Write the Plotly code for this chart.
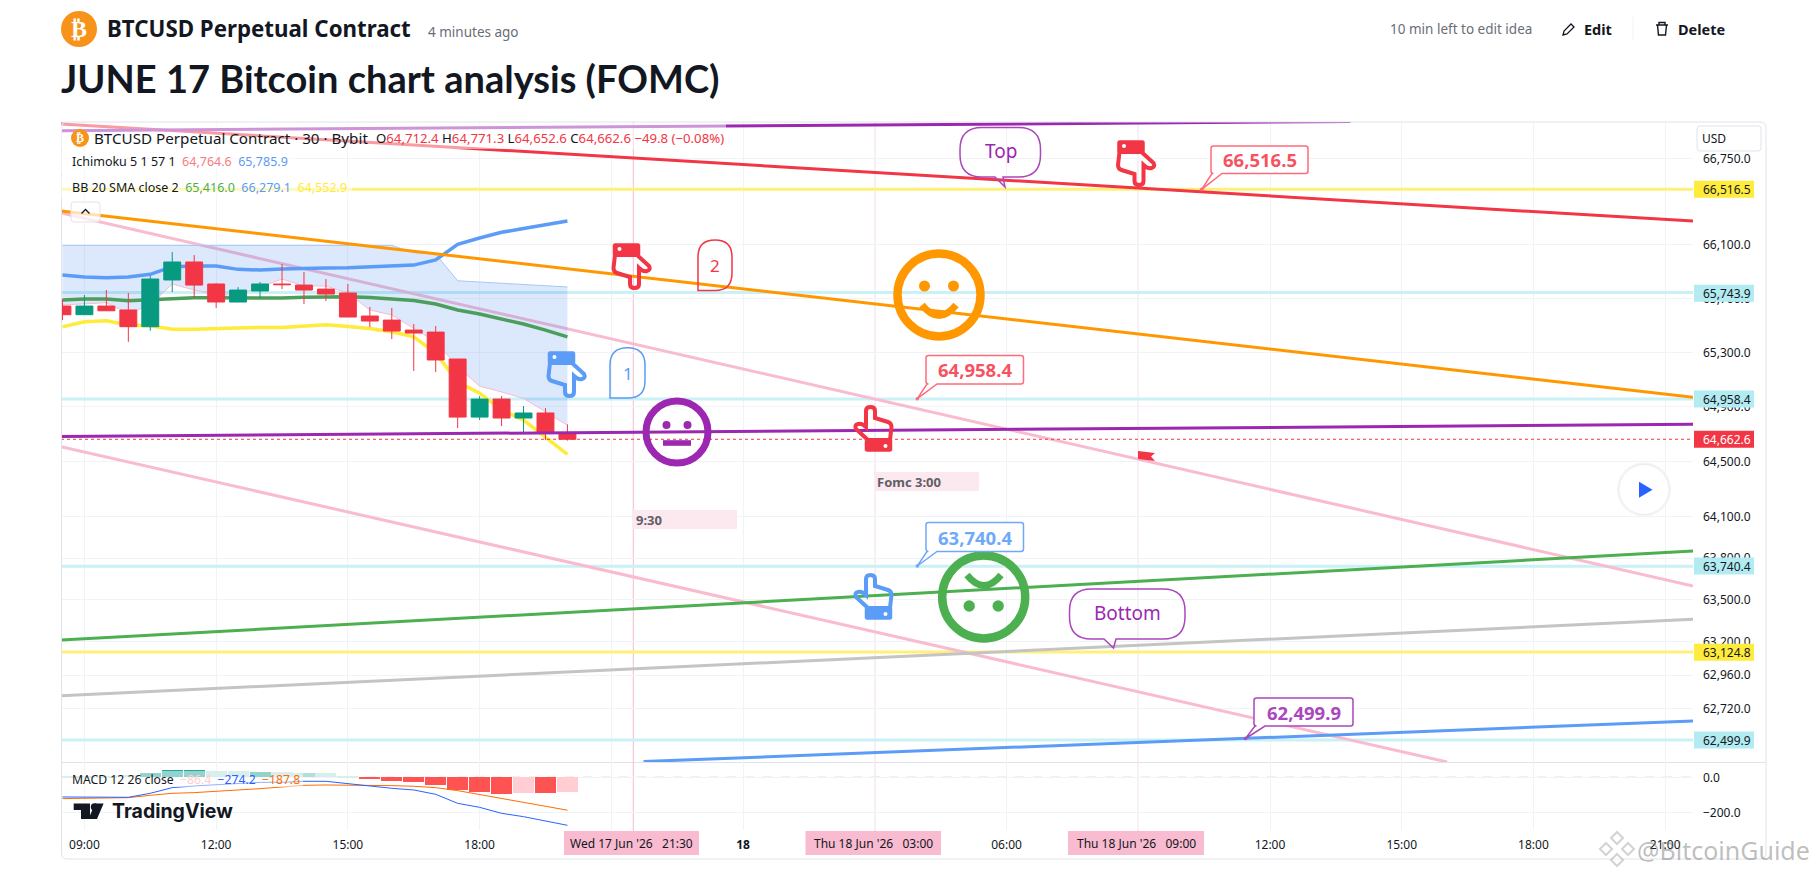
import plotly.graph_objects as go

W, H = 1815, 874

# --- data ---
candle_time = ["2026-06-17 08:30", "2026-06-17 09:00", "2026-06-17 09:30", "2026-06-17 10:00",
               "2026-06-17 10:30", "2026-06-17 11:00", "2026-06-17 11:30", "2026-06-17 12:00",
               "2026-06-17 12:30", "2026-06-17 13:00", "2026-06-17 13:30", "2026-06-17 14:00",
               "2026-06-17 14:30", "2026-06-17 15:00", "2026-06-17 15:30", "2026-06-17 16:00",
               "2026-06-17 16:30", "2026-06-17 17:00", "2026-06-17 17:30", "2026-06-17 18:00",
               "2026-06-17 18:30", "2026-06-17 19:00", "2026-06-17 19:30", "2026-06-17 20:00"]
o = [65644, 65580, 65644, 65615, 65491, 65838, 65972, 65808, 65674, 65756, 65808, 65800,
     65770, 65741, 65570, 65540, 65466, 65451, 65252, 64825, 64957, 64818, 64855, 64712.4]
h = [65694, 65726, 65763, 65741, 65867, 66046, 66024, 65815, 65785, 65823, 65957, 65897,
     65845, 65808, 65637, 65630, 65511, 65496, 65252, 64979, 64979, 64906, 64891, 64771.3]
l = [65540, 65580, 65609, 65379, 65461, 65748, 65704, 65630, 65674, 65704, 65770, 65659,
     65681, 65563, 65488, 65399, 65164, 65156, 64745, 64803, 64759, 64708, 64657, 64652.6]
c = [65580, 65644, 65609, 65491, 65845, 65972, 65800, 65674, 65763, 65808, 65803, 65763,
     65733, 65563, 65533, 65459, 65444, 65245, 64825, 64957, 64818, 64855, 64708, 64662.6]

bb_upper = [65875, 65860, 65855, 65860, 65880, 65937, 65942, 65942, 65917, 65912, 65919, 65925,
            65927, 65929, 65935, 65942, 65949, 65987, 66104, 66151, 66194, 66222, 66252, 66279.1]
bb_basis = [65689, 65696, 65696, 65684, 65691, 65701, 65706, 65706, 65704, 65704, 65704, 65709,
            65713, 65713, 65707, 65696, 65685, 65659, 65615, 65585, 65548, 65511, 65466, 65416.0]
bb_lower = [65490, 65528, 65535, 65503, 65498, 65473, 65473, 65478, 65486, 65486, 65486, 65496,
            65505, 65493, 65478, 65453, 65416, 65296, 65084, 65001, 64877, 64803, 64681, 64552.9]
cloud_top = [66096, 66096, 66096, 66096, 66096, 66096, 66096, 66096, 66096, 66096, 66096, 66096,
             66096, 66096, 66096, 66096, 66041, 66031, 65832, 65823, 65815, 65808, 65798, 65785.9]
cloud_low = [65652, 65659, 65669, 65590, 65652, 65808, 65763, 65726, 65726, 65785, 65845, 65793,
             65793, 65741, 65615, 65578, 65481, 65380, 65195, 65052, 65010, 64962, 64864, 64764.6]

macd_hist = [10, 10, 10, 12, 23, 42, 42, 34, 34, 30.5, 30.5, 26.7, 23, 8, -9.5, -21, -26.7, -44,
             -72, -84, -95, -89.5, -89.5, -86.4]
macd_col = ["#B2DFDB", "#B2DFDB", "#B2DFDB", "#B2DFDB", "#26A69A", "#26A69A", "#26A69A", "#B2DFDB",
            "#B2DFDB", "#26A69A", "#B2DFDB", "#B2DFDB", "#D5EFEB", "#D5EFEB", "#FF5252", "#FF5252",
            "#FF5252", "#FF5252", "#FF5252", "#FF5252", "#FF5252", "#FFCDD2", "#FF5252", "#FFCDD2"]
macd_line = [-112.4, -112.4, -114.3, -114.3, -91.4, -59, -49.5, -43.8, -34.3, -28.6, -28.6, -22.9,
             -22.9, -34.3, -49.5, -62.9, -72.4, -97.2, -148.6, -171.5, -205.7, -224.8, -247.7, -274.2]
macd_signal = [-121.9, -120, -118, -116.2, -102.9, -91.4, -87.6, -81.9, -72.4, -64.8, -53.3, -45.7,
               -43.8, -43.8, -45.7, -47.6, -51.4, -59, -76.2, -99, -121.9, -142.9, -163.8, -187.8]

# drawn trend lines, prices at the pane edges
edges = ["2026-06-17 08:28", "2026-06-18 21:38"]
red_tl = [67009.6, 66278]
orange_tl = [66353.5, 64970]
pink_tl_a = [66338, 63598]
purple_tl = [64683, 64772]
green_tl = [63211, 63850]
gray_tl = [62814, 63359]
pink_tl_b_x = ["2026-06-17 08:28", "2026-06-18 16:02"]
pink_tl_b = [64608, 62345]
blue_tl_x = ["2026-06-17 21:44", "2026-06-18 21:38"]
blue_tl = [62348, 62634]
purple_top_x = ["2026-06-17 08:28", "2026-06-18 13:50"]
purple_top = [66958.8, 67028.5]
yellow_levels = [66516.5, 63124.8]
cyan_levels = [65743.9, 64958.4, 63740.4, 62499.9]
last_price = 64662.6

price_ticks = [66750, 66100, 65700, 65300, 64900, 64500, 64100, 63800, 63500, 63200, 62960, 62720]
price_labels = ["66,750.0", "66,100.0", "65,700.0", "65,300.0", "64,900.0", "64,500.0",
                "64,100.0", "63,800.0", "63,500.0", "63,200.0", "62,960.0", "62,720.0"]
time_ticks = ["2026-06-17 09:00", "2026-06-17 12:00", "2026-06-17 15:00", "2026-06-17 18:00",
              "2026-06-17 21:00", "2026-06-18 00:00", "2026-06-18 03:00", "2026-06-18 06:00",
              "2026-06-18 09:00", "2026-06-18 12:00", "2026-06-18 15:00", "2026-06-18 18:00",
              "2026-06-18 21:00"]
time_labels = ["09:00", "12:00", "15:00", "18:00", "", "<b>18</b>", "", "06:00", "", "12:00",
               "15:00", "18:00", "21:00"]
cross_times = ["2026-06-17 21:30", "2026-06-18 03:00", "2026-06-18 09:00"]

FONT = "Noto Sans"
RED, BLUE, PURPLE = "#F23645", "#5B9CF6", "#AB47BC"
GRID = "#F2F3F6"

fig = go.Figure()


def line(x, y, color, width=3, axes=("x", "y"), dash=None):
    fig.add_trace(go.Scatter(x=x, y=y, mode="lines", xaxis=axes[0], yaxis=axes[1],
                             line=dict(color=color, width=width, dash=dash), hoverinfo="skip"))


# bottom of the stack: levels, pink lines, cloud, bands
for lvl in cyan_levels:
    line(edges, [lvl, lvl], "#C9F1F6")
for lvl in yellow_levels:
    line(edges, [lvl, lvl], "#FFF07A")
line(edges, pink_tl_a, "#F8BBD0")
line(pink_tl_b_x, pink_tl_b, "#F8BBD0")
line(edges, gray_tl, "#C4C4C4")
line(edges, green_tl, "#4CAF50")
line(blue_tl_x, blue_tl, BLUE)

fig.add_trace(go.Scatter(x=candle_time, y=cloud_top, mode="lines", hoverinfo="skip",
                         line=dict(color="#A6C8F5", width=1)))
fig.add_trace(go.Scatter(x=candle_time, y=cloud_low, mode="lines", hoverinfo="skip", fill="tonexty",
                         fillcolor="rgba(60,130,240,0.18)", line=dict(color="#F8BBD0", width=1)))
line(candle_time, bb_lower, "#FFEB3B", width=3.5)
line(candle_time, bb_basis, "#4C9F5A", width=3.5)
line(candle_time, bb_upper, BLUE, width=3.5)
line(edges, [last_price, last_price], RED, width=1, dash="dot")

# candles sit on an overlay pair of axes so that they cover the bands
fig.add_trace(go.Candlestick(x=candle_time, open=o, high=h, low=l, close=c, xaxis="x3", yaxis="y3",
                             whiskerwidth=0,
                             increasing=dict(fillcolor="#089981", line=dict(color="#089981", width=1)),
                             decreasing=dict(fillcolor=RED, line=dict(color=RED, width=1)),
                             hoverinfo="skip"))

# trend lines over the candles
top = ("x4", "y4")
line(edges, red_tl, RED, axes=top)
line(edges, orange_tl, "#FF9800", axes=top)
line(edges, purple_tl, "#9C27B0", axes=top)
line(purple_top_x, purple_top, "#9C27B0", axes=top)

# MACD pane
fig.add_trace(go.Bar(x=candle_time, y=macd_hist, marker=dict(color=macd_col, line_width=0),
                     width=1728000, xaxis="x2", yaxis="y2", hoverinfo="skip"))
line(candle_time, macd_signal, "#FF6D00", width=1, axes=("x2", "y2"))
line(candle_time, macd_line, "#2962FF", width=1, axes=("x2", "y2"))

# --- page furniture, positioned in page pixels ---
shapes, annos = [], []


def X(px):
    return px / W


def Y(py):
    return 1 - py / H


def path(cmds, color=None, fill="rgba(0,0,0,0)", width=1.5, layer="above"):
    # cmds is a list of (letter, x, y, ...) in page pixels
    s = ""
    for cmd in cmds:
        s += cmd[0]
        vals = cmd[1:]
        for i in range(0, len(vals), 2):
            s += f"{X(vals[i]):.5f},{Y(vals[i + 1]):.5f} "
    shapes.append(dict(type="path", path=s, xref="paper", yref="paper", fillcolor=fill, layer=layer,
                       line=dict(color=color or "rgba(0,0,0,0)", width=width if color else 0)))


def rect(x0, y0, x1, y1, fill, line_color=None, width=1, layer="above"):
    shapes.append(dict(type="rect", xref="paper", yref="paper", x0=X(x0), x1=X(x1), y0=Y(y0), y1=Y(y1),
                       fillcolor=fill, layer=layer,
                       line=dict(color=line_color or "rgba(0,0,0,0)", width=width if line_color else 0)))


def circle(cx, cy, r, fill="rgba(0,0,0,0)", line_color=None, width=1):
    shapes.append(dict(type="circle", xref="paper", yref="paper", x0=X(cx - r), x1=X(cx + r),
                       y0=Y(cy - r), y1=Y(cy + r), fillcolor=fill, layer="above",
                       line=dict(color=line_color or "rgba(0,0,0,0)", width=width if line_color else 0)))


def text(px, py, s, size=12, color="#131722", anchor="left", family=FONT):
    annos.append(dict(x=X(px), y=Y(py), xref="paper", yref="paper", text=s, showarrow=False,
                      xanchor=anchor, yanchor="middle", borderpad=0,
                      font=dict(size=size, color=color, family=family)))


def bubble(x0, y0, x1, y1, r, color, fill="rgba(0,0,0,0)", tail=None, width=1.5):
    cmds = [("M", x0 + r, y0), ("L", x1 - r, y0), ("Q", x1, y0, x1, y0 + r), ("L", x1, y1 - r),
            ("Q", x1, y1, x1 - r, y1)]
    if tail:
        cmds += [("L", tail[1], y1), ("L", tail[2], tail[3]), ("L", tail[0], y1)]
    cmds += [("L", x0 + r, y1), ("Q", x0, y1, x0, y1 - r), ("L", x0, y0 + r), ("Q", x0, y0, x0 + r, y0), ("Z",)]
    path(cmds, color, fill, width)


def hand(x0, y0, color, down=False):
    # 40 x 47 pointing hand, turned half round when it points down
    def p(u, v):
        return (x0 + 40 - u, y0 + 47 - v) if down else (x0 + u, y0 + v)

    path([("M", *p(15, 35)), ("L", *p(3, 24)), ("Q", *p(1, 20), *p(5, 19)), ("Q", *p(9, 18), *p(13, 22)),
          ("L", *p(13, 6)), ("Q", *p(13, 2), *p(17.5, 2)), ("Q", *p(22, 2), *p(22, 6)), ("L", *p(22, 13)),
          ("L", *p(35, 17)), ("Q", *p(38.5, 18), *p(38.5, 22)), ("L", *p(37, 35)), ("Z",)], color, width=4)
    a, b = p(12, 34), p(39, 46.5)
    bubble(min(a[0], b[0]), min(a[1], b[1]), max(a[0], b[0]), max(a[1], b[1]), 2, color, fill=color, width=0.5)
    d = p(32.5, 41)
    circle(d[0], d[1], 2, "#FFFFFF")


def face(cx, cy, r, sw, color, eye_dy, eye_dx, eye_r, mouth):
    circle(cx, cy, r, line_color=color, width=sw)
    circle(cx - eye_dx, cy + eye_dy, eye_r, color)
    circle(cx + eye_dx, cy + eye_dy, eye_r, color)
    path(mouth, color, width=sw * 0.8)


# panel frame and separators
bubble(61.5, 122, 1766, 859, 6, "#E0E3EB", width=1)
rect(61.5, 762, 1766, 763, "#E0E3EB", layer="below")

# crosshair verticals through both panes
for t in cross_times:
    shapes.append(dict(type="line", xref="x", yref="paper", x0=t, x1=t, y0=Y(831), y1=Y(122), layer="below",
                       line=dict(color="#F8BBD0", width=1)))
shapes.append(dict(type="line", xref="paper", yref="y2", x0=X(61), x1=X(1693), y0=0, y1=0, layer="below",
                   line=dict(color="#B2B5BE", width=1, dash="dash")))

# translucent backing of the legend rows
rect(61, 123, 726, 149, "rgba(255,255,255,0.5)")
rect(61, 151, 296, 174, "rgba(255,255,255,0.5)")
rect(61, 176, 352, 198, "rgba(255,255,255,0.5)")
rect(62, 771, 303, 787, "rgba(255,255,255,0.5)")

# icons
hand(853, 405, RED)
hand(853, 573, BLUE)
hand(612, 243, RED, down=True)
hand(1116.5, 140, RED, down=True)
hand(547, 351, BLUE, down=True)

face(939, 295, 41.5, 8.5, "#FF9800", -9, 14.5, 5.5,
     [("M", 922, 305), ("Q", 939, 326, 956, 305)])
face(983.7, 597, 41.5, 8.5, "#4CAF50", 9, 14.5, 5.7,
     [("M", 967, 575), ("Q", 984, 596, 1001, 575)])
face(677, 432, 31, 7, "#9C27B0", -7, 10.5, 4,
     [("M", 663, 443), ("L", 691, 443)])

# balloons
path([("M", 610, 398), ("L", 610, 365), ("Q", 610, 347.7, 627.5, 347.7), ("Q", 645, 347.7, 645, 365),
      ("L", 645, 381), ("Q", 645, 398, 628, 398), ("Z",)], BLUE)
text(627.5, 373, "1", 17, BLUE, "center")
path([("M", 698, 290.5), ("L", 698, 257), ("Q", 698, 240, 715, 240), ("Q", 732, 240, 732, 257),
      ("L", 732, 273), ("Q", 732, 290.5, 715, 290.5), ("Z",)], RED)
text(715, 265, "2", 17, RED, "center")

bubble(960, 127.5, 1040.5, 177, 22, PURPLE, tail=(995, 1003, 1005, 187))
text(1000.5, 151, "Top", 19, "#9C27B0", "center")
bubble(1069.5, 589, 1185, 639, 22, PURPLE, tail=(1104, 1116, 1113.5, 648))
text(1127, 613, "Bottom", 19, "#9C27B0", "center")

price_notes = [(1211, 146, 1308, 173.5, "66,516.5", "#FF6B7A", "#F7525F", 1201.7, 189.3),
               (926, 355.5, 1023.5, 384, "64,958.4", "#FF6B7A", "#F7525F", 917.3, 398.7),
               (926, 522.5, 1023.5, 551.5, "63,740.4", "#6EA8FB", "#6EA8FB", 917.3, 566),
               (1254, 698, 1353, 726, "62,499.9", PURPLE, PURPLE, 1245.5, 738.5)]
for x0, y0, x1, y1, s, col, tcol, tx, ty in price_notes:
    bubble(x0, y0, x1, y1, 2.5, col, fill="#FFFFFF", tail=(x0 + 1, x0 + 11, tx, ty))
    circle(tx, ty, 1.8, col)
    text((x0 + x1) / 2, (y0 + y1) / 2, f"<b>{s}</b>", 18.5, tcol, "center")

rect(874.5, 472, 979, 491, "#FCE8EF")
text(876, 481.5, "<b>Fomc 3:00</b>", 13, "#5F5F66")
rect(632, 510, 737, 529, "#FCE8EF")
text(635, 519.5, "<b>9:30</b>", 13, "#5F5F66")

path([("M", 1138, 451), ("L", 1155, 453), ("L", 1151, 456.5), ("L", 1155, 461), ("L", 1138, 459), ("Z",)],
     fill=RED)

# right axis tags
tags = [(66516.5, "66,516.5", 189.3, "#FFEB3B", "#131722"), (65743.9, "65,743.9", 293.3, "#B2EBF2", "#131722"),
        (64958.4, "64,958.4", 399, "#B2EBF2", "#131722"), (64662.6, "64,662.6", 439.3, RED, "#FFFFFF"),
        (63740.4, "63,740.4", 566, "#B2EBF2", "#131722"), (63124.8, "63,124.8", 652.3, "#FFEB3B", "#131722"),
        (62499.9, "62,499.9", 740, "#B2EBF2", "#131722")]
for _, s, ty, bg, fg in tags:
    rect(1694, ty - 8.5, 1754, ty + 8.5, bg)
    text(1702, ty, s, 12, fg)

bubble(1697, 126, 1761, 151, 3, "#E0E3EB", fill="#FFFFFF", width=1)
text(1701, 138.5, "USD", 12)

# play button
circle(1644, 489.5, 27, "#F4F4F6")
circle(1644, 489.5, 25, "#FFFFFF", "#ECEDF0", 1)
path([("M", 1639, 481.7), ("L", 1652.5, 489.7), ("L", 1639, 497.7), ("Z",)], fill="#2962FF")

# crosshair time labels
for x0, x1, s in [(564, 699, "Wed 17 Jun '26\u00a0\u00a0 21:30"), (805.5, 941, "Thu 18 Jun '26\u00a0\u00a0 03:00"),
                  (1068, 1204, "Thu 18 Jun '26\u00a0\u00a0 09:00")]:
    rect(x0, 831, x1, 855, "#F8BBD0")
    text((x0 + x1) / 2, 843, s, 12, "#131722", "center")

# legend rows
circle(80, 138, 9, "#F7931A")
text(80, 138, "<b>\u20bf</b>", 12, "#FFFFFF", "center", "DejaVu Sans")
text(93, 138, "BTCUSD Perpetual Contract \u00b7 30 \u00b7 Bybit", 15.2, "#131722")
s_val = '<span style="color:#F23645">%s</span>'
text(375, 138, "O" + s_val % "64,712.4" + " H" + s_val % "64,771.3" + " L" + s_val % "64,652.6" + " C"
     + s_val % "64,662.6" + " " + s_val % "\u221249.8 (\u22120.08%)", 13.2)
text(71, 162, "Ichimoku 5 1 57 1\u00a0\u00a0"
     '<span style="color:#F77C80">64,764.6</span>\u00a0\u00a0<span style="color:#5B9CF6">65,785.9</span>', 12.5)
text(71, 187, "BB 20 SMA close 2\u00a0\u00a0"
     '<span style="color:#4CAF50">65,416.0</span>\u00a0\u00a0<span style="color:#5B9CF6">66,279.1</span>'
     '\u00a0\u00a0<span style="color:#FFEB3B">64,552.9</span>', 12.5)
text(71, 779, "MACD 12 26 close\u00a0\u00a0"
     '<span style="color:#FFCDD2">\u221286.4</span>\u00a0\u00a0<span style="color:#2962FF">\u2212274.2</span>'
     '\u00a0\u00a0<span style="color:#FF6D00">\u2212187.8</span>', 12.2)
bubble(71, 202, 100, 222, 3, "#E0E3EB", fill="rgba(255,255,255,0.7)", width=1)
path([("M", 81.5, 213.5), ("L", 85.5, 209.5), ("L", 89.5, 213.5)], "#131722", width=1.3)

# TradingView mark
path([("M", 73.7, 803.5), ("L", 90, 803.5), ("L", 90, 819), ("L", 81, 819), ("L", 81, 810), ("L", 73.7, 810), ("Z",)],
     fill="#131722")
circle(94.5, 807, 3.7, "#131722")
path([("M", 103.6, 803.5), ("L", 97, 819), ("L", 88.5, 819), ("L", 95, 803.5), ("Z",)], fill="#131722")
text(111, 811, "<b>TradingView</b>", 19.5, "#131722", family="Inter")

# watermark
for dx, dy in [(0, -11), (0, 11), (-11, 0), (11, 0)]:
    cx, cy = 1617 + dx, 849 + dy
    path([("M", cx, cy - 6), ("L", cx + 6, cy), ("L", cx, cy + 6), ("L", cx - 6, cy), ("Z",)],
         "rgba(130,130,130,0.35)", "rgba(255,255,255,0.5)", 2)
text(1636, 850, "@BitcoinGuide", 25, "rgba(110,110,110,0.45)")

# page header
circle(79, 29, 18, "#F7931A")
text(79, 29, "<b>\u20bf</b>", 24, "#FFFFFF", "center", "DejaVu Sans")
text(105.5, 29, "<b>BTCUSD Perpetual Contract</b>", 22.3, "#131722")
text(427, 32, "4 minutes ago", 13.5, "#6A6D78")
text(60, 78, "<b>JUNE 17 Bitcoin chart analysis (FOMC)</b>", 38, "#131722", family="Lato")
text(1389, 29, "10 min left to edit idea", 13.5, "#6A6D78")
path([("M", 1563, 35), ("L", 1564, 31), ("L", 1571, 24), ("L", 1574, 27), ("L", 1567, 34), ("Z",)],
     "#131722", width=1.3)
text(1583, 29, "<b>Edit</b>", 14.5)
rect(1632.5, 17, 1633.5, 41, "#F0F3FA")
path([("M", 1656, 25), ("L", 1668, 25), ("M", 1659, 25), ("L", 1659, 22.5), ("L", 1665, 22.5), ("L", 1665, 25),
      ("M", 1657.5, 25), ("L", 1658.5, 35), ("L", 1665.5, 35), ("L", 1666.5, 25)], "#131722", width=1.4)
text(1677, 29, "<b>Delete</b>", 14.5)

# --- axes ---
x_dom = [X(61), X(1693)]
xr = edges
main_y_range = [4.794801, 4.826236]
main_dom = [Y(762), Y(122)]
hidden = dict(visible=False, fixedrange=True)

fig.update_layout(
    width=W, height=H, margin=dict(l=0, r=0, t=0, b=0), paper_bgcolor="#FFFFFF", plot_bgcolor="#FFFFFF",
    showlegend=False, bargap=0, boxgap=0.23, boxgroupgap=0, shapes=shapes, annotations=annos, hovermode=False,
    font=dict(family=FONT, color="#131722", size=12),
    xaxis=dict(domain=x_dom, range=xr, type="date", anchor="y", tickmode="array", tickvals=time_ticks,
               showticklabels=False, showgrid=True, gridcolor=GRID, ticks="", zeroline=False,
               rangeslider=dict(visible=False)),
    yaxis=dict(domain=main_dom, range=main_y_range, type="log", side="right", anchor="x", tickmode="array",
               tickvals=price_ticks, ticktext=price_labels, showgrid=True, gridcolor=GRID, ticks="",
               ticklabelstandoff=9, tickfont=dict(size=12, color="#131722"), zeroline=False),
    xaxis2=dict(domain=x_dom, range=xr, type="date", anchor="y2", tickmode="array", tickvals=time_ticks,
                ticktext=time_labels, showgrid=True, gridcolor=GRID, ticks="", zeroline=False,
                ticklabelstandoff=6, tickfont=dict(size=12, color="#131722")),
    yaxis2=dict(domain=[Y(830), Y(762)], range=[-301, 87.4], side="right", anchor="x2", tickmode="array",
                tickvals=[0, -200], ticktext=["0.0", "\u2212200.0"], showgrid=True, gridcolor=GRID, ticks="",
                ticklabelstandoff=9, tickfont=dict(size=12, color="#131722"), zeroline=False),
    xaxis3=dict(overlaying="x", range=xr, type="date", rangeslider=dict(visible=False), anchor="y3", **hidden),
    yaxis3=dict(overlaying="y", range=main_y_range, type="log", anchor="x3", **hidden),
    xaxis4=dict(overlaying="x", range=xr, type="date", anchor="y4", **hidden),
    yaxis4=dict(overlaying="y", range=main_y_range, type="log", anchor="x4", **hidden),
)

fig.write_html("out.html", config=dict(displayModeBar=False),
               post_script="document.body.style.margin='0';document.body.style.overflow='hidden';")
